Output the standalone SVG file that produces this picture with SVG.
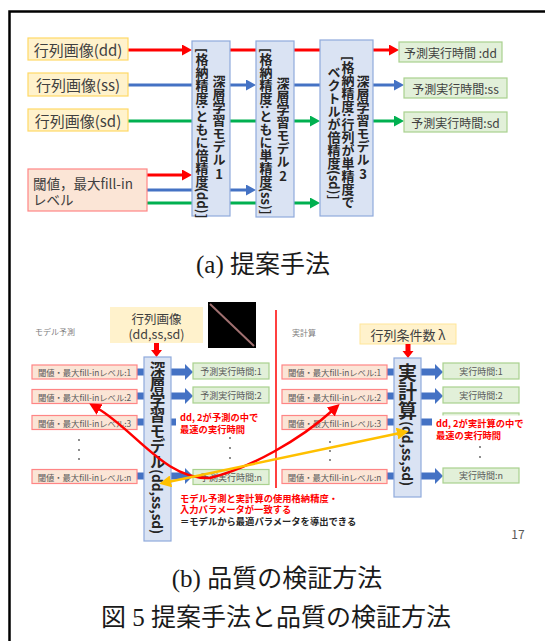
<svg xmlns="http://www.w3.org/2000/svg" width="545" height="641" viewBox="0 0 545 641">
<style>
.jp{font-family:"Noto Sans CJK JP","Noto Sans",sans-serif}
.yb{fill:#FFF2CC;stroke:#FFD966;stroke-width:1.2}
.pb{fill:#FBE5D6;stroke:#FF8585;stroke-width:1.2}
.mb{fill:#DAE3F3;stroke:#8FAADC;stroke-width:1.2}
.gb{fill:#E2F0D9;stroke:#A9D18E;stroke-width:1.2}
.t15{font-size:15px;fill:#404040}
.t14{font-size:13.5px;fill:#404040}
.t12{font-size:12px;fill:#404040}
.vt{writing-mode:vertical-rl;font-weight:bold;font-size:13px;fill:#262626}
.sm{font-size:8.3px;fill:#595959}
.gt{font-size:9px;fill:#595959}
.rt{font-size:9.3px;font-weight:bold;fill:#FF0000}
.kt{font-size:9.3px;font-weight:bold;fill:#262626}
.cap{font-family:"Liberation Serif","Noto Sans CJK JP",serif;font-size:25px;fill:#1a1a1a}
.c{text-anchor:middle;dominant-baseline:central}
.l{dominant-baseline:central}
.r{stroke:#FF0000;stroke-width:3;fill:none}
.b{stroke:#4472C4;stroke-width:3;fill:none}
.g{stroke:#00B050;stroke-width:3;fill:none}
.bl{fill:#4472C4}
.dot{fill:#595959}
</style>
<defs>
<marker id="ar" markerUnits="userSpaceOnUse" markerWidth="10" markerHeight="11" refX="2" refY="5.5" orient="auto"><path d="M0,0 L10,5.5 L0,11 z" fill="#FF0000"/></marker>
<marker id="ab" markerUnits="userSpaceOnUse" markerWidth="10" markerHeight="11" refX="2" refY="5.5" orient="auto"><path d="M0,0 L10,5.5 L0,11 z" fill="#4472C4"/></marker>
<marker id="ag" markerUnits="userSpaceOnUse" markerWidth="10" markerHeight="11" refX="2" refY="5.5" orient="auto"><path d="M0,0 L10,5.5 L0,11 z" fill="#00B050"/></marker>
<marker id="acr" markerUnits="userSpaceOnUse" markerWidth="12" markerHeight="12" refX="3" refY="6" orient="auto-start-reverse"><path d="M0,0 L12,6 L0,12 z" fill="#FF0000"/></marker>
<marker id="aor" markerUnits="userSpaceOnUse" markerWidth="12" markerHeight="12" refX="3" refY="6" orient="auto-start-reverse"><path d="M0,0 L12,6 L0,12 z" fill="#FFC000"/></marker>
</defs>

<path d="M9.5,641 V11.5 H545" fill="none" stroke="#000" stroke-width="2.5"/>

<!-- (a) top panel -->
<g id="connectors-a">
<path class="r" d="M128,50 H184" marker-end="url(#ar)"/>
<path class="r" d="M230,50 H256 M294,50 H320"/>
<path class="r" d="M373,50 H391" marker-end="url(#ar)"/>
<path class="b" d="M128,85 H192"/>
<path class="b" d="M230,85 H248" marker-end="url(#ab)"/>
<path class="b" d="M294,85 H320"/>
<path class="b" d="M373,85 H396" marker-end="url(#ab)"/>
<path class="g" d="M128,121 H192 M230,121 H256"/>
<path class="g" d="M294,121 H312" marker-end="url(#ag)"/>
<path class="g" d="M373,121 H396" marker-end="url(#ag)"/>
<path class="r" d="M147,175 H184" marker-end="url(#ar)"/>
<path class="b" d="M147,190 H192"/>
<path class="b" d="M230,190 H248" marker-end="url(#ab)"/>
<path class="g" d="M147,203 H192 M230,203 H256"/>
<path class="g" d="M294,203 H312" marker-end="url(#ag)"/>
</g>

<g id="img-dd" class="jp"><rect class="yb" x="28" y="38" width="100" height="22"/><text class="t15 c" x="78" y="49">行列画像(dd)</text></g>
<g id="img-ss" class="jp"><rect class="yb" x="28" y="73" width="100" height="23"/><text class="t15 c" x="78" y="84.5">行列画像(ss)</text></g>
<g id="img-sd" class="jp"><rect class="yb" x="28" y="109" width="100" height="22"/><text class="t15 c" x="78" y="120">行列画像(sd)</text></g>
<g id="threshold" class="jp"><rect class="pb" x="28" y="169" width="119" height="42"/><text class="t14 l" x="33" y="182.5">閾値，最大fill-in</text><text class="t14 l" x="33" y="199">レベル</text></g>

<g id="model1" class="jp"><rect class="mb" x="192" y="41" width="38" height="175"/>
<text class="vt" x="202" y="48">[格納精度:ともに倍精度(dd)]</text>
<text class="vt" x="219" y="75">深層学習モデル</text>
<text class="c" x="219" y="173" font-size="13" font-weight="bold" fill="#262626">1</text></g>
<g id="model2" class="jp"><rect class="mb" x="256" y="41" width="38" height="176"/>
<text class="vt" x="266" y="48">[格納精度:ともに単精度(ss)]</text>
<text class="vt" x="283" y="77">深層学習モデル</text>
<text class="c" x="283" y="175" font-size="13" font-weight="bold" fill="#262626">2</text></g>
<g id="model3" class="jp"><rect class="mb" x="320" y="40" width="53" height="176"/>
<text class="vt" x="334" y="66">ベクトルが倍精度(sd)]</text>
<text class="vt" x="348" y="56">[格納精度:行列が単精度で</text>
<text class="vt" x="363" y="75">深層学習モデル</text>
<text class="c" x="363" y="173" font-size="13" font-weight="bold" fill="#262626">3</text></g>

<g id="out-dd" class="jp"><rect class="gb" x="399" y="42" width="103" height="20"/><text class="t12 c" x="450.5" y="52">予測実行時間 :dd</text></g>
<g id="out-ss" class="jp"><rect class="gb" x="404" y="78" width="103" height="20"/><text class="t12 c" x="455.5" y="88">予測実行時間:ss</text></g>
<g id="out-sd" class="jp"><rect class="gb" x="404" y="112" width="103" height="20"/><text class="t12 c" x="455.5" y="122">予測実行時間:sd</text></g>

<text id="cap-a" class="cap c" x="263" y="264">(a) 提案手法</text>

<!-- (b) bottom panel -->
<text class="jp l" x="35" y="331" font-size="8" fill="#7F7F7F">モデル予測</text>
<text class="jp l" x="292" y="332" font-size="8" fill="#7F7F7F">実計算</text>

<g id="img-all" class="jp"><rect x="110" y="307" width="93" height="36" fill="#FFF2CC"/><text class="c" x="156.5" y="318" font-size="12.5" fill="#404040">行列画像</text><text class="c" x="156.5" y="333" font-size="12.5" fill="#404040">(dd,ss,sd)</text></g>
<g id="matrix-pic"><rect x="208" y="302" width="48" height="46" fill="#000"/><line x1="210" y1="304" x2="254" y2="346" stroke="#A07070" stroke-width="2"/></g>
<line id="divider" x1="276" y1="310" x2="276" y2="488" stroke="#FF0000" stroke-width="1.5"/>
<g id="cond" class="jp"><rect x="360" y="324" width="96" height="20" fill="#FFF2CC" stroke="#FFE699" stroke-width="1"/><text class="c" x="408" y="334" font-size="13" fill="#404040">行列条件数 λ</text></g>

<g id="connectors-b">
<polygon points="154,343 159,343 159,350 162,350 156.5,357 151,350 154,350" fill="#FF0000"/>
<polygon points="405.5,344 410.5,344 410.5,351 413.5,351 408,358 402.5,351 405.5,351" fill="#FF0000"/>
<rect class="bl" x="137" y="368.5" width="7" height="7"/>
<rect class="bl" x="137" y="392.5" width="7" height="7"/>
<rect class="bl" x="137" y="418.5" width="7" height="7"/>
<rect class="bl" x="137" y="472.5" width="7" height="7"/>
<polygon class="bl" points="171,368.5 185,368.5 185,364 193,372 185,380 185,375.5 171,375.5"/>
<polygon class="bl" points="171,392.5 185,392.5 185,388 193,396 185,404 185,399.5 171,399.5"/>
<rect class="bl" x="171" y="418.5" width="5" height="7"/>
<polygon class="bl" points="171,472.5 185,472.5 185,468 193,476 185,484 185,479.5 171,479.5"/>
<rect class="bl" x="387" y="368.5" width="7" height="7"/>
<rect class="bl" x="387" y="392.5" width="7" height="7"/>
<rect class="bl" x="387" y="418.5" width="7" height="7"/>
<rect class="bl" x="387" y="472.5" width="7" height="7"/>
<polygon class="bl" points="421,368.5 435,368.5 435,364 443,372 435,380 435,375.5 421,375.5"/>
<polygon class="bl" points="421,392.5 435,392.5 435,388 443,396 435,404 435,399.5 421,399.5"/>
<rect class="bl" x="421" y="418.5" width="11" height="7"/>
<polygon class="bl" points="421,472.5 435,472.5 435,468 443,476 435,484 435,479.5 421,479.5"/>
</g>

<g id="dl-model" class="jp"><rect class="mb" x="144" y="357" width="27" height="184"/><text class="vt" x="157.5" y="361" style="font-size:15.5px">深層学習モデル</text><text class="vt" x="157.5" y="469" style="font-size:13.5px">(dd,ss,sd)</text></g>
<g id="real-calc" class="jp"><rect class="mb" x="394" y="358" width="27" height="139"/><text class="vt" x="407.5" y="363" style="font-size:19px">実計算</text><text class="vt" x="407.5" y="421" style="font-size:13.5px">(dd,ss,sd)</text></g>

<g id="lp1" class="jp"><rect class="pb" x="32" y="365" width="105" height="14"/><text class="sm c" x="84.5" y="372">閾値・最大fill-inレベル:1</text></g>
<g id="lp2" class="jp"><rect class="pb" x="32" y="389.5" width="105" height="14"/><text class="sm c" x="84.5" y="396.5">閾値・最大fill-inレベル:2</text></g>
<g id="lp3" class="jp"><rect class="pb" x="32" y="415.5" width="105" height="14"/><text class="sm c" x="84.5" y="422.5">閾値・最大fill-inレベル:3</text></g>
<g id="lpn" class="jp"><rect class="pb" x="32" y="469.5" width="105" height="14"/><text class="sm c" x="84.5" y="476.5">閾値・最大fill-inレベル:n</text></g>
<g id="rp1" class="jp"><rect class="pb" x="282" y="365" width="105" height="14"/><text class="sm c" x="334.5" y="372">閾値・最大fill-inレベル:1</text></g>
<g id="rp2" class="jp"><rect class="pb" x="282" y="389.5" width="105" height="14"/><text class="sm c" x="334.5" y="396.5">閾値・最大fill-inレベル:2</text></g>
<g id="rp3" class="jp"><rect class="pb" x="282" y="415.5" width="105" height="14"/><text class="sm c" x="334.5" y="422.5">閾値・最大fill-inレベル:3</text></g>
<g id="rpn" class="jp"><rect class="pb" x="282" y="469.5" width="105" height="14"/><text class="sm c" x="334.5" y="476.5">閾値・最大fill-inレベル:n</text></g>

<g id="lo1" class="jp"><rect class="gb" x="193" y="363" width="76" height="16"/><text class="gt c" x="231" y="371">予測実行時間:1</text></g>
<g id="lo2" class="jp"><rect class="gb" x="193" y="387" width="76" height="16"/><text class="gt c" x="231" y="395">予測実行時間:2</text></g>
<g id="lon" class="jp"><rect class="gb" x="193" y="469.5" width="76" height="15"/><text class="gt c" x="231" y="477">予測実行時間:n</text></g>
<g id="ro1" class="jp"><rect class="gb" x="443" y="363" width="76" height="16"/><text class="gt c" x="481" y="371">実行時間:1</text></g>
<g id="ro2" class="jp"><rect class="gb" x="443" y="387" width="76" height="16"/><text class="gt c" x="481" y="395">実行時間:2</text></g>
<g id="ro3"><rect class="gb" x="443" y="413" width="76" height="16"/></g>
<g id="ron" class="jp"><rect class="gb" x="443" y="468" width="76" height="15"/><text class="gt c" x="481" y="475.5">実行時間:n</text></g>

<g id="dots">
<circle class="dot" cx="79" cy="440" r="0.9"/><circle class="dot" cx="79" cy="450" r="0.9"/><circle class="dot" cx="79" cy="459" r="0.9"/>
<circle class="dot" cx="230" cy="438" r="0.9"/><circle class="dot" cx="230" cy="448" r="0.9"/><circle class="dot" cx="230" cy="458" r="0.9"/>
<circle class="dot" cx="330" cy="442" r="0.9"/><circle class="dot" cx="330" cy="451" r="0.9"/><circle class="dot" cx="330" cy="460" r="0.9"/>
<circle class="dot" cx="480" cy="447" r="0.9"/><circle class="dot" cx="480" cy="457" r="0.9"/>
</g>

<g id="note-left" class="jp"><text class="rt l" x="180" y="417">dd, 2が予測の中で</text><text class="rt l" x="180" y="429">最速の実行時間</text></g>
<g id="note-right" class="jp"><rect x="434" y="415.5" width="100" height="26" fill="#fff"/><text class="rt l" x="436" y="423">dd, 2が実計算の中で</text><text class="rt l" x="436" y="435">最速の実行時間</text></g>

<g id="links">
<path d="M97,408 C135,430 165,480 210,478 C250,468 300,440 333,410" stroke="#FF0000" stroke-width="2.5" fill="none" marker-start="url(#acr)" marker-end="url(#acr)"/>
<line x1="168" y1="482" x2="400" y2="433" stroke="#FFC000" stroke-width="2.5" marker-start="url(#aor)" marker-end="url(#aor)"/>
</g>

<g id="note-bottom" class="jp"><text class="rt l" x="180" y="497.5">モデル予測と実計算の使用格納精度・</text><text class="rt l" x="180" y="509">入力パラメータが一致する</text><text class="kt l" x="180" y="521">＝モデルから最適パラメータを導出できる</text></g>
<text class="jp c" x="518" y="533" font-size="12" fill="#595959">17</text>

<text id="cap-b" class="cap c" x="277" y="578">(b) 品質の検証方法</text>
<text id="cap-fig" class="cap c" x="276" y="617">図 5 提案手法と品質の検証方法</text>
</svg>
